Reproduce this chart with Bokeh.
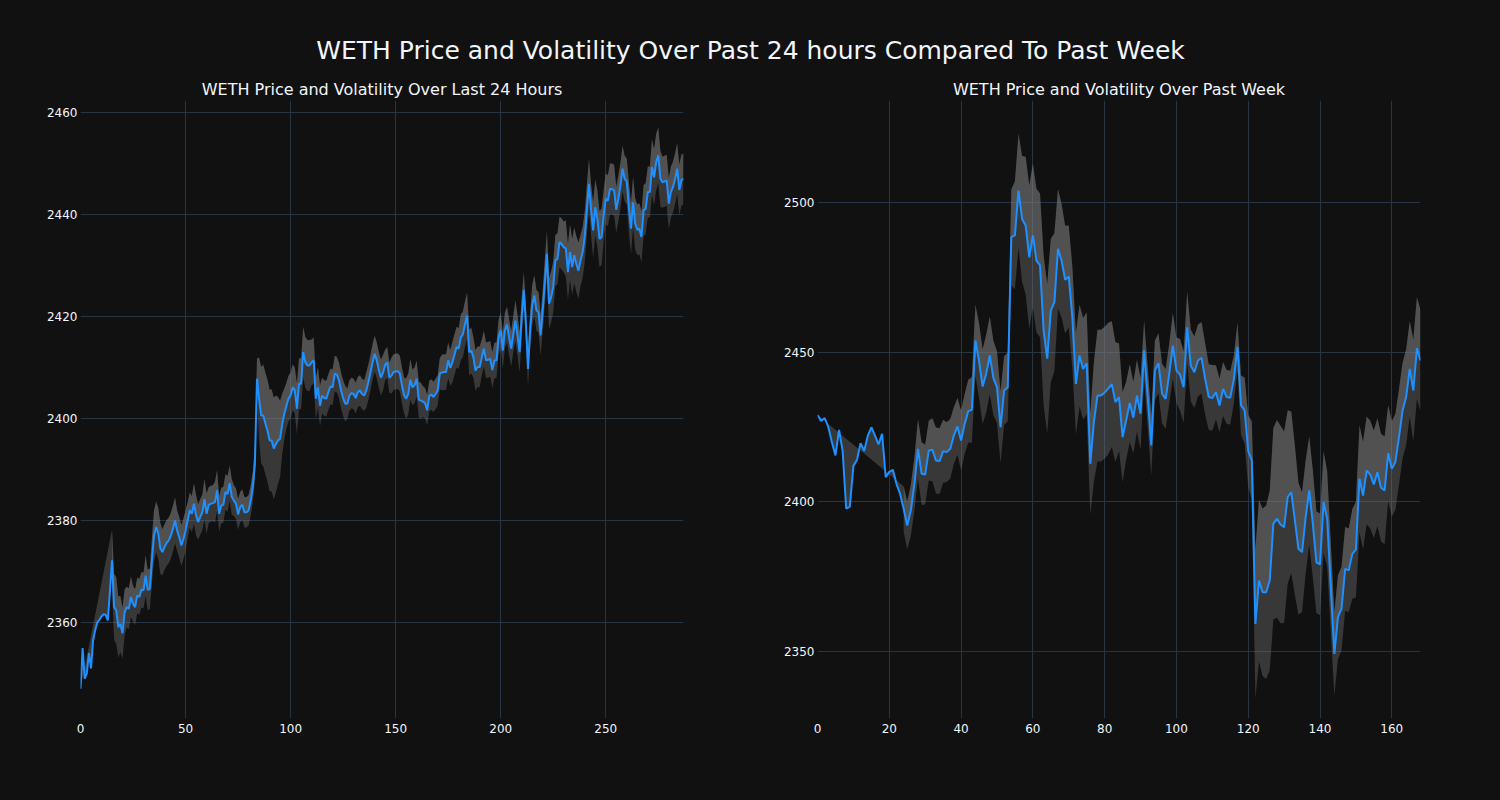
from bokeh.plotting import figure
from bokeh.layouts import column, row
from bokeh.models import FixedTicker, Label, Range1d
from bokeh.embed import file_html
from bokeh.resources import INLINE

BG = "#111111"
GRID = "#283442"
TXT = "#f2f5fa"
LINE = "#1e90ff"
BAND = "#808080"
FONT = "DejaVu Sans"

main_title = "WETH Price and Volatility Over Past 24 hours Compared To Past Week"
title_24h = "WETH Price and Volatility Over Last 24 Hours"
title_week = "WETH Price and Volatility Over Past Week"

x_ticks_24h = [0, 50, 100, 150, 200, 250]
y_ticks_24h = [2360, 2380, 2400, 2420, 2440, 2460]
x_ticks_week = [0, 20, 40, 60, 80, 100, 120, 140, 160]
y_ticks_week = [2350, 2400, 2450, 2500]

# 5-minute prices over the last 24 hours (288 points)
price_24h = [
    2347, 2355, 2349, 2350, 2354, 2351, 2356.5, 2358.5, 2360, 2360.5,
    2361.2, 2361.6, 2361.5, 2360.4, 2366, 2372.2, 2363, 2362.4, 2359.1, 2359.7,
    2357.9, 2362, 2363, 2362.7, 2365, 2363.7, 2363, 2365.3, 2365, 2366.4,
    2366.3, 2369.2, 2366.4, 2366.6, 2372.2, 2377, 2378.7, 2377.5, 2374.5, 2373.8,
    2374.8, 2375.6, 2376.1, 2377, 2378.4, 2380, 2378, 2376.7, 2375.1, 2376.4,
    2378, 2380, 2382, 2381.3, 2383.3, 2381, 2379.7, 2380.7, 2381.6, 2384.2,
    2381.3, 2383, 2383.3, 2383.4, 2383.6, 2385.9, 2381.3, 2382.9, 2383.1, 2385.6,
    2385.2, 2387.3, 2384.6, 2383.9, 2383.3, 2381.2, 2382.6, 2383.1, 2381.6, 2381.6,
    2382, 2383.9, 2386.5, 2391.1, 2407.8, 2403.9, 2400.6, 2400.6, 2399, 2397.6,
    2395.7, 2395.7, 2394.1, 2395, 2395.7, 2396, 2398.9, 2400.9, 2402.5, 2403.9,
    2404.5, 2406.1, 2405.5, 2401.9, 2406.8, 2406.8, 2413, 2411, 2410.4, 2410.4,
    2411, 2411.4, 2403.9, 2406.1, 2402.5, 2404.5, 2404, 2403.9, 2405.2, 2406.3,
    2406.1, 2408.8, 2408.6, 2407.5, 2405.5, 2404, 2402.9, 2402.9, 2404.5, 2405,
    2404.8, 2404, 2405.2, 2405.5, 2404.8, 2404.5, 2405.5, 2407.1, 2409, 2411,
    2412.7, 2411.4, 2409.5, 2408, 2409, 2410.5, 2411, 2408, 2408.4, 2409.1,
    2409.2, 2409.3, 2408.8, 2406.5, 2404.5, 2403.9, 2404.8, 2407.6, 2406.1, 2406.5,
    2407.8, 2403.7, 2403.5, 2403.3, 2403, 2401.6, 2404.4, 2404.7, 2404.2, 2404.8,
    2405.5, 2408.8, 2409, 2409.1, 2409.1, 2411.4, 2409.9, 2411, 2412.5, 2414,
    2413.7, 2415.9, 2416.5, 2418.5, 2420.2, 2413, 2413.3, 2412, 2409.4, 2410.1,
    2410.1, 2412, 2413.7, 2411.4, 2411.5, 2411.7, 2409.5, 2411.4, 2411.4, 2415.9,
    2417.3, 2413.3, 2417.3, 2418.4, 2415.9, 2413.7, 2416.6, 2419.2, 2416.3, 2413,
    2419.9, 2425.2, 2418.6, 2409.7, 2417.3, 2422.2, 2424.1, 2421.2, 2420.8, 2416.3,
    2421.2, 2426.7, 2432.3, 2422.5, 2423.8, 2425.8, 2431, 2431.3, 2434.6, 2434.2,
    2433.6, 2433.3, 2428.7, 2432.6, 2429.7, 2432, 2430.3, 2429, 2431, 2432.6,
    2435.6, 2440.8, 2446, 2441, 2436.9, 2441.4, 2439.2, 2435.2, 2435.6, 2439.8,
    2443.1, 2442.7, 2445, 2445, 2444.7, 2440.9, 2443.1, 2445.7, 2449, 2447,
    2446.5, 2441.4, 2437.2, 2442.4, 2438.2, 2437, 2437.2, 2435.6, 2440.8, 2441.1,
    2444.4, 2444.4, 2449.3, 2447.3, 2450.3, 2451.6, 2447, 2446.3, 2446.5, 2446.7,
    2442.1, 2444.4, 2445.4, 2447, 2449, 2444.8, 2446.7, 2447,
]

# volatility half-width of the band (None where not yet defined)
vol_24h = [
    None, None, None, None, None, None, None, None, None, None,
    None, None, None, None, None, 6, 6.5, 6.5, 6, 5.5,
    5, 4.5, 4, 4, 4, 3.5, 3.5, 3.5, 3.5, 3.5,
    3.5, 4, 4, 4, 4.5, 5, 5, 5, 5, 4.5,
    4.5, 4.5, 4.5, 4.5, 4.5, 4.5, 4, 4, 4, 4,
    4, 3.5, 3.5, 3.5, 4, 4, 3.5, 3.5, 3.5, 4,
    4, 3.5, 3.5, 3.5, 4, 4, 3.5, 3.5, 3.5, 3.5,
    3.5, 3.5, 3.5, 3, 3, 3, 3, 3, 3, 3,
    3, 3, 3, 3.5, 4, 8, 9.5, 10, 10, 10,
    10, 10, 10, 9.5, 8.5, 7.5, 6, 5, 4.5, 4.5,
    4.5, 4.5, 4.5, 5, 5, 5, 5, 5, 5, 5,
    4.5, 4.5, 4, 4, 4, 3.5, 3.5, 3.5, 3.5, 3.5,
    3.5, 3.5, 3.5, 3.5, 3.5, 3.5, 3.5, 3, 3, 3,
    3, 3, 3, 3, 3, 3, 3.5, 3.5, 3.5, 3.5,
    3.5, 3.5, 3.5, 3.5, 3.5, 3, 3, 3, 3.5, 3.5,
    3.5, 3.5, 3.5, 3.5, 3.5, 4, 4, 4, 3.5, 3.5,
    3.5, 3.5, 3.5, 3, 3, 3, 3, 3, 3, 3,
    3, 3, 3.5, 3.5, 3.5, 3.5, 3.5, 4, 4, 4,
    4, 4.5, 4.5, 4.5, 4.5, 4.5, 4.5, 4, 4, 4,
    4, 3.5, 3.5, 3.5, 3.5, 3.5, 3.5, 3.5, 3.5, 3.5,
    3.5, 3.5, 3.5, 3.5, 3.5, 3.5, 3.5, 4, 4, 4,
    4, 3.5, 3.5, 3.5, 3.5, 4, 4, 4, 4, 4,
    4, 4.5, 4.5, 5, 5, 5, 5, 5, 5, 5,
    5, 5.5, 5.5, 5.5, 5.5, 5.5, 5.5, 5.5, 5, 5,
    5, 5, 5, 5, 5.5, 5.5, 5.5, 5.5, 5.5, 5,
    5, 5, 5, 5, 5, 4.5, 4.5, 4.5, 4.5, 4.5,
    4.5, 5, 5, 5, 5, 5, 5, 5, 5, 5,
    5, 5, 5.5, 5.5, 5.5, 5.5, 5.5, 5, 5, 5,
    5, 5, 5, 5, 5, 5, 5, 5,
]

# hourly prices over the past week (169 points)
price_week = [
    2429, 2427, 2428, 2425, 2420, 2415.5, 2424, 2417, 2397.7, 2398.4,
    2412, 2414, 2419.6, 2417, 2422, 2424.9, 2422.2, 2419.2, 2422.7, 2408.2,
    2410, 2410.7, 2406, 2402.7, 2397.7, 2392.1, 2397.1, 2406, 2417.7, 2409.4,
    2409.1, 2417.1, 2417.4, 2413.8, 2413.6, 2416.9, 2416.6, 2417.7, 2422.2, 2425.2,
    2420.5, 2426, 2430.3, 2430.7, 2453.9, 2447.2, 2438.5, 2442.8, 2448.9, 2441.4,
    2438.3, 2424.9, 2437.2, 2438.3, 2488.4, 2489, 2504, 2494.5, 2492.3, 2481.7,
    2489, 2480.6, 2479, 2457.2, 2447.8, 2463.9, 2466.7, 2484.5, 2480.6, 2474.2,
    2475.3, 2461.7, 2439.4, 2448.9, 2444.4, 2446.3, 2412.7, 2426.6, 2435.5, 2435.5,
    2436.5, 2437.8, 2439.3, 2433.3, 2435, 2421.6, 2427.2, 2433, 2428.1, 2435.5,
    2429.4, 2450.6, 2435, 2418.8, 2443.9, 2446.3, 2436.1, 2434.4, 2442.8, 2452.2,
    2443.9, 2442.5, 2438.3, 2458.3, 2445.5, 2443.3, 2447.2, 2448.1, 2441.1, 2435,
    2434.7, 2436.6, 2432.2, 2437.7, 2435, 2434.8, 2441, 2451.8, 2432.2, 2430.5,
    2417, 2413.8, 2359.2, 2373.7, 2369.8, 2369.8, 2373.7, 2392.7, 2394.3, 2392.4,
    2391.5, 2401.6, 2403.2, 2393.8, 2384.3, 2383.2, 2394.9, 2403.8, 2392.7, 2379.8,
    2379.1, 2399.9, 2394.3, 2371.5, 2349.2, 2361.5, 2364.3, 2377.6, 2377.1, 2382.6,
    2384, 2407.7, 2402.1, 2410.5, 2409.1, 2405.8, 2409.9, 2404.7, 2403.8, 2416.3,
    2411, 2413.3, 2421.6, 2430.5, 2435, 2444.4, 2437.2, 2451.4, 2447.2,
]

vol_week = [
    None, None, None, None, None, None, None, None, None, None,
    None, None, None, None, None, None, None, None, None, None,
    None, None, None, None, 7.5, 8, 8.5, 9, 10, 10.5,
    10, 10, 10.5, 11, 11, 10.5, 10, 10, 9.5, 9.5,
    10, 10, 10.5, 11, 12, 12.5, 12.5, 13, 13, 12.5,
    12, 12, 11.5, 11.5, 16, 18, 19, 21, 23, 24,
    24, 24, 24, 25, 25, 24, 23, 20, 19, 18,
    17, 17, 17, 17, 17, 17, 17, 20, 22, 22,
    22, 22, 21, 20, 18, 15, 13, 13, 12, 12,
    12, 10, 10, 10, 10, 10, 10, 10, 10, 11,
    11, 12, 12, 12, 12, 12, 12, 12, 12, 11,
    11, 9, 9, 9, 9, 9, 8, 8, 10, 11,
    12, 13, 25, 27, 28, 29, 30, 32, 33, 33,
    32, 29, 27, 25, 22, 20, 19, 18, 18, 17,
    17, 17, 16, 15, 14, 14, 14, 14, 14, 15,
    16, 18, 18, 18, 18, 18, 18, 18, 18, 16,
    16, 16, 16, 16, 16, 16, 17, 17, 17,
]


def style_axes(p, xticks, yticks):
    p.xaxis.ticker = FixedTicker(ticks=xticks)
    p.yaxis.ticker = FixedTicker(ticks=yticks)
    for ax in (p.xaxis, p.yaxis):
        ax.axis_line_color = None
        ax.major_tick_line_color = None
        ax.minor_tick_line_color = None
        ax.major_tick_out = 0
        ax.major_tick_in = 0
        ax.major_label_text_color = TXT
        ax.major_label_text_font = FONT
        ax.major_label_text_font_size = "12px"
    p.xaxis.major_label_standoff = 5
    p.yaxis.major_label_standoff = 3
    p.xgrid.grid_line_color = GRID
    p.ygrid.grid_line_color = GRID
    p.xgrid.grid_line_width = 1
    p.ygrid.grid_line_width = 1


def panel(price, vol, xr, yr, xticks, yticks, bl, br):
    n = min(len(price), len(vol))
    price = price[:n]
    vol = vol[:n]
    x = list(range(n))
    start = next(i for i, v in enumerate(vol) if v is not None)
    xs = x[start:]
    up = [price[i] + vol[i] for i in xs]
    lo = [price[i] - vol[i] for i in xs]
    p = figure(width=bl + 603 + br, height=684,
               x_range=Range1d(*xr), y_range=Range1d(*yr),
               output_backend="svg", toolbar_location=None,
               min_border_left=bl, min_border_right=br,
               min_border_top=0, min_border_bottom=66,
               background_fill_color=BG, border_fill_color=BG,
               outline_line_color=None)
    style_axes(p, xticks, yticks)
    # band between lower and upper
    p.varea(x=xs, y1=lo, y2=up, fill_color=BAND, fill_alpha=0.35)
    # fill between price and upper (closing back to the first price point)
    p.patch(xs + x[::-1], up + price[::-1], fill_color=BAND, fill_alpha=0.35,
            line_color=None)
    p.line(x, price, line_color=LINE, line_width=2)
    return p


p1 = panel(price_24h, vol_24h, (0, 287), (2341.17, 2462.35),
           x_ticks_24h, y_ticks_24h, 80, 67)
p2 = panel(price_week, vol_week, (0, 168), (2327.6, 2534.08),
           x_ticks_week, y_ticks_week, 67, 72)

pt = figure(width=1492, height=100, x_range=Range1d(0, 1492), y_range=Range1d(0, 100),
            output_backend="svg", toolbar_location=None,
            x_axis_type=None, y_axis_type=None,
            min_border_left=0, min_border_right=0, min_border_top=0, min_border_bottom=0,
            background_fill_color=BG, border_fill_color=BG, outline_line_color=None)
pt.xgrid.visible = False
pt.ygrid.visible = False
pt.add_layout(Label(x=750, y=50, text=main_title, text_align="center",
                    text_baseline="middle", text_font=FONT, text_font_size="25px",
                    text_color=TXT))
pt.add_layout(Label(x=381.5, y=11, text=title_24h, text_align="center",
                    text_baseline="middle", text_font=FONT, text_font_size="16px",
                    text_color=TXT))
pt.add_layout(Label(x=1118.5, y=11, text=title_week, text_align="center",
                    text_baseline="middle", text_font=FONT, text_font_size="16px",
                    text_color=TXT))

layout = column(pt, row(p1, p2))
html = file_html(layout, INLINE)
html = html.replace("</head>",
                    "<style>html,body{background:#111111 !important;margin:0 !important;}</style></head>", 1)
open("out.html", "w").write(html)
